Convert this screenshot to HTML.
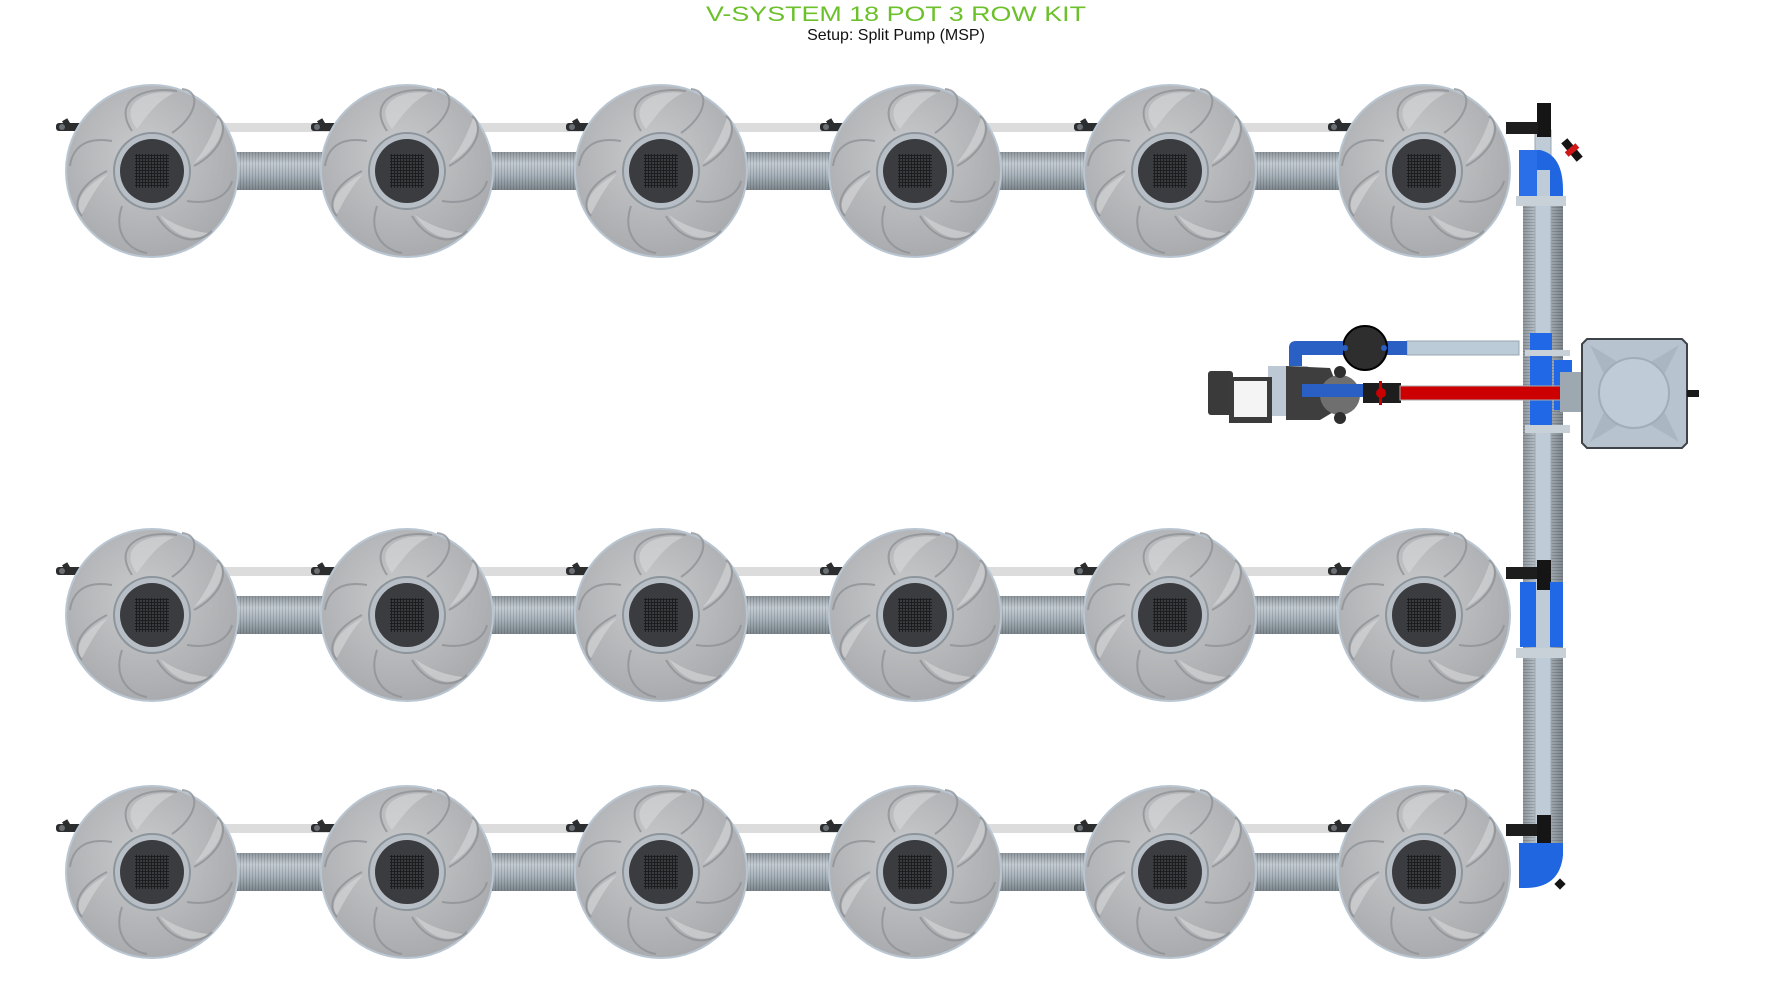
<!DOCTYPE html>
<html><head><meta charset="utf-8"><style>
html,body{margin:0;padding:0;background:#fff;}
svg{display:block;}
</style></head><body>
<svg width="1784" height="997" viewBox="0 0 1784 997" xmlns="http://www.w3.org/2000/svg">
<defs>
  <linearGradient id="corr" x1="0" y1="0" x2="0" y2="1">
    <stop offset="0" stop-color="#8e969d"/><stop offset="0.3" stop-color="#c4ccd3"/>
    <stop offset="0.6" stop-color="#a9b3bb"/><stop offset="1" stop-color="#7c858c"/>
  </linearGradient>
  <linearGradient id="corrV" x1="0" y1="0" x2="1" y2="0">
    <stop offset="0" stop-color="#8e969d"/><stop offset="0.4" stop-color="#c4ccd3"/>
    <stop offset="1" stop-color="#7c858c"/>
  </linearGradient>
  <pattern id="ribs" width="3" height="10" patternUnits="userSpaceOnUse">
    <rect width="1" height="10" fill="#000" opacity="0.12"/>
  </pattern>
  <pattern id="ribsV" width="10" height="3" patternUnits="userSpaceOnUse">
    <rect width="10" height="1" fill="#000" opacity="0.15"/>
  </pattern>
  <radialGradient id="potg" cx="0.45" cy="0.4" r="0.6">
    <stop offset="0" stop-color="#c9cacc"/><stop offset="1" stop-color="#a9abae"/>
  </radialGradient>
  <pattern id="grid" width="3" height="3" patternUnits="userSpaceOnUse">
    <rect width="3" height="3" fill="#1c1d1f"/><rect width="2" height="2" fill="#3a3c40"/>
  </pattern>
  <g id="pot">
    <circle r="87" fill="#b9c6d2"/>
    <circle r="85" fill="url(#potg)"/>
    <g fill="none" stroke="#8f9296" stroke-width="2" opacity="0.8">
      <path d="M-20,-40 C-40,-70 -10,-85 25,-80"/>
      <path d="M20,-38 C45,-55 50,-80 30,-82"/>
      <path d="M42,-5 C70,-20 78,-45 65,-55"/>
      <path d="M35,30 C65,35 78,20 80,10"/>
      <path d="M5,45 C20,70 45,75 60,60"/>
      <path d="M-30,35 C-40,65 -20,80 -5,82"/>
      <path d="M-45,0 C-75,15 -80,35 -70,45"/>
      <path d="M-40,-30 C-70,-35 -80,-20 -82,-5"/>
    </g>
    <g fill="#d8d9db" opacity="0.6">
      <path d="M-15,-42 C-35,-68 -5,-82 22,-78 C5,-70 -5,-55 -15,-42Z"/>
      <path d="M42,-8 C68,-22 75,-44 66,-53 C60,-35 52,-20 42,-8Z"/>
      <path d="M8,44 C22,66 42,72 56,62 C38,60 22,54 8,44Z"/>
      <path d="M-44,3 C-72,17 -78,34 -70,43 C-62,28 -55,15 -44,3Z"/>
    </g>
    <circle r="38" fill="#b7bec6" stroke="#8d959c" stroke-width="2"/>
    <circle r="32" fill="#3a3c40"/>
    <rect x="-17" y="-17" width="34" height="34" fill="url(#grid)"/>
  </g>
  <g id="fit">
    <rect x="-14" y="-4" width="28" height="8" rx="3" fill="#2c2d2f"/>
    <rect x="-4" y="-9" width="6" height="6" fill="#2c2d2f" transform="rotate(-30)"/>
    <circle cx="-8" cy="0" r="3" fill="#6b7075"/>
  </g>
  <g id="row">
    <rect x="152" y="-19" width="1300" height="38" fill="url(#corr)"/>
    <rect x="152" y="-19" width="1300" height="38" fill="url(#ribs)"/>
    <rect x="80" y="-48" width="1400" height="9" fill="#dcdcdc"/>
    <use href="#fit" x="70" y="-44"/><use href="#fit" x="325" y="-44"/><use href="#fit" x="580" y="-44"/>
    <use href="#fit" x="834" y="-44"/><use href="#fit" x="1088" y="-44"/><use href="#fit" x="1342" y="-44"/>
    <use href="#pot" x="152" y="0"/><use href="#pot" x="407" y="0"/><use href="#pot" x="661" y="0"/>
    <use href="#pot" x="915" y="0"/><use href="#pot" x="1170" y="0"/><use href="#pot" x="1424" y="0"/>
  </g>
</defs>

<text x="896" y="21" text-anchor="middle" font-family="Liberation Sans, sans-serif" font-size="21" fill="#6cc12b" textLength="380" lengthAdjust="spacingAndGlyphs">V-SYSTEM 18 POT 3 ROW KIT</text>
<text x="896" y="40" text-anchor="middle" font-family="Liberation Sans, sans-serif" font-size="16" fill="#111">Setup: Split Pump (MSP)</text>

<!-- vertical manifold -->
<rect x="1523" y="190" width="40" height="660" fill="url(#corrV)"/>
<rect x="1523" y="190" width="40" height="660" fill="url(#ribsV)"/>
<rect x="1535" y="130" width="16" height="720" fill="#bfccd8" stroke="#9aa7b2"/>

<use href="#row" x="0" y="171"/>
<use href="#row" x="0" y="615"/>
<use href="#row" x="0" y="872"/>

<!-- top tee & elbow -->
<rect x="1537" y="103" width="14" height="34" fill="#151515"/>
<rect x="1506" y="122" width="32" height="12" fill="#1d1d1d"/>
<path d="M1519,150 L1540,150 Q1563,155 1563,190 L1563,196 L1550,196 L1550,170 L1519,170Z" fill="#1f66e0"/>
<rect x="1519" y="150" width="18" height="46" fill="#2a6ee8"/>
<rect x="1516" y="196" width="50" height="10" fill="#c8d0d8"/>
<g transform="translate(1572,150) rotate(-40)"><rect x="-4" y="-12" width="8" height="24" fill="#151515"/><rect x="-7" y="-3" width="14" height="6" fill="#d01818"/></g>

<!-- middle tee -->
<rect x="1506" y="567" width="32" height="12" fill="#1d1d1d"/>
<rect x="1537" y="560" width="14" height="30" fill="#151515"/>
<rect x="1520" y="582" width="16" height="65" fill="#2168e6"/>
<rect x="1550" y="582" width="13" height="65" fill="#2168e6"/>
<rect x="1516" y="648" width="50" height="10" fill="#c8d0d8"/>

<!-- bottom elbow -->
<rect x="1506" y="824" width="32" height="12" fill="#1d1d1d"/>
<rect x="1537" y="815" width="14" height="35" fill="#151515"/>
<path d="M1519,843 L1563,843 L1563,855 Q1560,888 1525,888 L1519,888Z" fill="#1f66e0"/>
<rect x="1556" y="880" width="8" height="8" fill="#151515" transform="rotate(45 1560 884)"/>

<!-- central manifold blue tees -->
<rect x="1530" y="333" width="22" height="100" fill="#2168e6"/>
<rect x="1554" y="360" width="18" height="50" fill="#2168e6"/>
<rect x="1525" y="350" width="45" height="6" fill="#c8d0d8"/>
<rect x="1525" y="425" width="45" height="8" fill="#c8d0d8"/>

<!-- light pipe to filter -->
<rect x="1407" y="341" width="112" height="14" fill="#bccbd8" stroke="#98a6b2"/>
<rect x="1385" y="341" width="22" height="14" fill="#2a5fc4"/>
<!-- filter -->
<circle cx="1365" cy="348" r="22" fill="#2e2e2e" stroke="#000" stroke-width="2"/>
<circle cx="1345" cy="348" r="3" fill="#2a5fc4"/><circle cx="1384" cy="348" r="3" fill="#2a5fc4"/>
<!-- blue pipes to pump -->
<path d="M1343,341 L1296,341 Q1289,341 1289,348 L1289,397 L1363,397 L1363,384 L1302,384 L1302,355 L1343,355Z" fill="#2a5fc4"/>
<!-- pump -->
<rect x="1268" y="366" width="40" height="50" fill="#bcc9d4"/>
<rect x="1208" y="371" width="25" height="44" rx="3" fill="#3a3a3a"/>
<rect x="1229" y="377" width="43" height="46" fill="#3b3b3b"/>
<rect x="1234" y="381" width="33" height="36" fill="#f4f4f4"/>
<path d="M1286,366 L1330,368 L1345,405 L1320,420 L1286,420Z" fill="#3e3e3e"/>
<circle cx="1340" cy="395" r="20" fill="#6f6f6f"/>
<circle cx="1340" cy="372" r="6" fill="#2e2e2e"/><circle cx="1340" cy="418" r="6" fill="#2e2e2e"/>
<rect x="1302" y="384" width="62" height="13" fill="#2a5fc4"/>
<!-- valve + red pipe -->
<rect x="1363" y="383" width="38" height="20" fill="#1d1d1d"/>
<circle cx="1381" cy="393" r="5" fill="#c80000"/>
<rect x="1379" y="381" width="3" height="24" fill="#c80000"/>
<rect x="1400" y="386" width="175" height="14" fill="#cc0000" stroke="#aaa"/>
<rect x="1560" y="372" width="22" height="40" fill="#9ea8b0"/>

<!-- reservoir -->
<path d="M1587,339 L1682,339 L1687,344 L1687,443 L1682,448 L1587,448 L1582,443 L1582,344Z" fill="#b7c4cf" stroke="#3d4348" stroke-width="2"/>
<path d="M1590,345 L1634,372 L1679,345 L1655,393 L1679,442 L1634,415 L1590,442 L1613,393Z" fill="#a4b1bc" opacity="0.7"/>
<circle cx="1634" cy="393" r="35" fill="#bfccd7" stroke="#a1adb8" stroke-width="2"/>
<rect x="1687" y="390" width="12" height="7" fill="#1a1a1a"/>
</svg>
</body></html>
